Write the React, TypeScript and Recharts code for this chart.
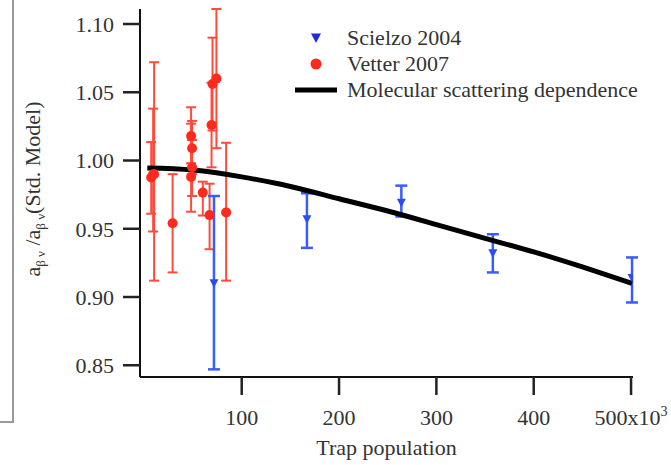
import React from 'react';
import { ComposedChart, Line, Scatter, XAxis, YAxis, ErrorBar, Legend } from 'recharts';

// Scielzo 2004 (trap population in units of 10^3)
const scielzoX = [71.5, 167, 264, 358, 501];
const scielzoY = [0.910, 0.957, 0.969, 0.932, 0.914];
const scielzoLow = [0.847, 0.936, 0.959, 0.918, 0.896];
const scielzoHigh = [0.974, 0.976, 0.9816, 0.946, 0.929];

// Vetter 2007
const vetterX = [7, 9, 10, 29, 48, 49, 49, 48, 60, 67, 69, 70, 74, 84];
const vetterY = [0.9875, 0.990, 0.990, 0.954, 1.018, 1.009, 0.995, 0.988, 0.9765, 0.960, 1.026, 1.056, 1.060, 0.962];
const vetterLow = [0.961, 0.948, 0.912, 0.918, 0.998, 0.990, 0.974, 0.9625, 0.9597, 0.935, 0.995, 1.022, 1.009, 0.912];
const vetterHigh = [1.0135, 1.038, 1.072, 0.990, 1.039, 1.029, 1.015, 1.027, 0.9845, 0.983, 1.057, 1.090, 1.111, 1.013];

// Molecular scattering dependence
const modelX = [3, 50, 100, 150, 200, 250, 300, 350, 400, 450, 501];
const modelY = [0.9945, 0.993, 0.988, 0.981, 0.972, 0.963, 0.953, 0.943, 0.933, 0.922, 0.910];

const xTicks = [100, 200, 300, 400, 500];
const yTicks = [0.85, 0.90, 0.95, 1.00, 1.05, 1.10];

const FONT = '"Liberation Serif", "Times New Roman", serif';
const TEXT = '#333333';
const RED = '#ff2a1e';
const RED_BAR = '#ff4a3c';
const BLUE = '#2a4cf2';
const BLUE_BAR = '#3a5cff';
const textStyle = { fontFamily: FONT, fontSize: 22, fill: TEXT };

const withErr = (xs: number[], ys: number[], lo: number[], hi: number[]) =>
  xs.map((x, i) => ({ x, y: ys[i], err: [ys[i] - lo[i], hi[i] - ys[i]] }));

const scielzoData = withErr(scielzoX, scielzoY, scielzoLow, scielzoHigh);
const vetterData = withErr(vetterX, vetterY, vetterLow, vetterHigh);
const modelData = modelX.map((x, i) => ({ x, y: modelY[i] }));

const DownTriangle = (props: any) => {
  const { cx, cy } = props;
  if (cx == null || cy == null) return null;
  return <path d={`M${cx - 4.5},${cy - 4} L${cx + 4.5},${cy - 4} L${cx},${cy + 4.5} Z`} fill={BLUE} />;
};

const Dot = (props: any) => {
  const { cx, cy } = props;
  if (cx == null || cy == null) return null;
  return <circle cx={cx} cy={cy} r={5} fill={RED} />;
};

const XTick = (props: any) => {
  const { x, y, payload } = props;
  const v = payload.value;
  return (
    <text x={x} y={y} dy="0.71em" textAnchor="middle" style={textStyle}>
      {v === 500 ? (
        <>
          500x10<tspan dy={-9} style={{ fontSize: 14 }}>3</tspan>
        </>
      ) : (
        v
      )}
    </text>
  );
};

const YTick = (props: any) => {
  const { x, y, payload } = props;
  return (
    <text x={x} y={y} dy="0.355em" textAnchor="end" style={textStyle}>
      {Number(payload.value).toFixed(2)}
    </text>
  );
};

const YLabel = () => {
  const cx = 40;
  const cy = 189;
  return (
    <text x={cx} y={cy} transform={`rotate(-90, ${cx}, ${cy})`} textAnchor="middle" style={textStyle}>
      a<tspan dy={5} style={{ fontSize: 13 }}>β ν</tspan>
      <tspan dy={-5}> /a</tspan>
      <tspan dy={5} style={{ fontSize: 13 }}>β ν</tspan>
      <tspan dy={-5}>(Std. Model)</tspan>
    </text>
  );
};

const XLabel = (props: any) => {
  const vb = props.viewBox || {};
  const cx = (vb.x ?? 140) + (vb.width ?? 493) / 2;
  return (
    <text x={cx} y={447} dy="0.355em" textAnchor="middle" style={textStyle}>
      Trap population
    </text>
  );
};

const LegendBox = () => {
  const row = { display: 'flex', alignItems: 'center', height: 26 };
  const mark = { width: 42, display: 'flex', justifyContent: 'center', marginRight: 10 };
  return (
    <div style={{ fontFamily: FONT, fontSize: 22, color: TEXT, lineHeight: '26px' }}>
      <div style={row}>
        <div style={mark}>
          <svg width={12} height={12}>
            <path d="M1,1.5 L11,1.5 L6,11 Z" fill="#1c2fd8" />
          </svg>
        </div>
        <span>Scielzo 2004</span>
      </div>
      <div style={row}>
        <div style={mark}>
          <svg width={12} height={12}>
            <circle cx={6} cy={6} r={5.5} fill={RED} />
          </svg>
        </div>
        <span>Vetter 2007</span>
      </div>
      <div style={row}>
        <div style={mark}>
          <svg width={42} height={8}>
            <line x1={0} y1={4} x2={42} y2={4} stroke="#000" strokeWidth={5} />
          </svg>
        </div>
        <span style={{ whiteSpace: 'nowrap' }}>Molecular scattering dependence</span>
      </div>
    </div>
  );
};

export default function App() {
  return (
    <div style={{ position: 'absolute', left: 0, top: 0, width: 671, height: 465, background: '#fff' }}>
      <div
        style={{
          position: 'absolute',
          left: 0,
          top: 0,
          width: 12,
          height: 421,
          borderRight: '2px solid #9a9a9a',
          borderBottom: '2px solid #9a9a9a',
        }}
      />
      <ComposedChart width={671} height={465} margin={{ top: 9, right: 38, bottom: 38, left: 60 }}>
        <XAxis
          type="number"
          dataKey="x"
          domain={[-4.5, 502]}
          ticks={xTicks}
          allowDataOverflow
          height={50}
          tickSize={18}
          tickMargin={14}
          tick={<XTick />}
          axisLine={{ stroke: '#111', strokeWidth: 2 }}
          tickLine={{ stroke: '#222', strokeWidth: 2.5 }}
          label={{ content: (p: any) => <XLabel {...p} /> }}
        />
        <YAxis
          type="number"
          dataKey="y"
          domain={[0.8414, 1.111]}
          ticks={yTicks}
          allowDataOverflow
          width={80}
          tickSize={17}
          tickMargin={9}
          tick={<YTick />}
          axisLine={{ stroke: '#111', strokeWidth: 2 }}
          tickLine={{ stroke: '#222', strokeWidth: 2.5 }}
          label={{ content: () => <YLabel /> }}
        />
        <Legend
          layout="horizontal"
          verticalAlign="middle"
          align="center"
          content={() => <LegendBox />}
          wrapperStyle={{ left: 295, top: 25, width: 376, height: 80 }}
        />
        <Scatter name="Vetter 2007" data={vetterData} shape={<Dot />} isAnimationActive={false}>
          <ErrorBar dataKey="err" direction="y" width={5} stroke={RED_BAR} strokeWidth={2} isAnimationActive={false} />
        </Scatter>
        <Scatter name="Scielzo 2004" data={scielzoData} shape={<DownTriangle />} isAnimationActive={false}>
          <ErrorBar dataKey="err" direction="y" width={6} stroke={BLUE_BAR} strokeWidth={2.5} isAnimationActive={false} />
        </Scatter>
        <Line
          name="Molecular scattering dependence"
          data={modelData}
          dataKey="y"
          type="natural"
          stroke="#000"
          strokeWidth={5}
          dot={false}
          activeDot={false}
          isAnimationActive={false}
        />
      </ComposedChart>
    </div>
  );
}
